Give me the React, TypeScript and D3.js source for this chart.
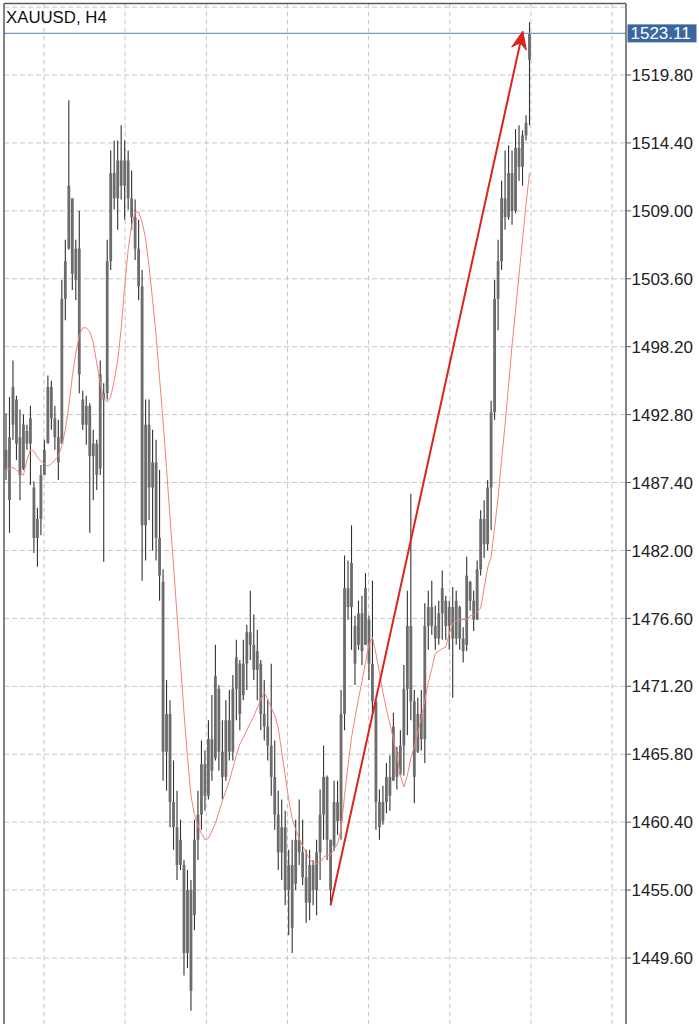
import React from 'react';
import * as d3 from 'd3';

const symbolTitle = 'XAUUSD, H4';
const priceTicks = [1449.6, 1455.0, 1460.4, 1465.8, 1471.2, 1476.6, 1482.0, 1487.4, 1492.8, 1498.2, 1503.6, 1509.0, 1514.4, 1519.8];
const extraGridLevels = [1444.2, 1525.2];
const currentPrice = 1523.11;

const highs = [
  1492.9, 1494.2, 1497.1, 1494.3, 1493.2, 1492.8, 1492.0, 1493.5, 1487.5, 1485.4,
  1488.8, 1490.8, 1495.9, 1495.5, 1493.5, 1492.4, 1503.5, 1506.7, 1517.8, 1508.7,
  1506.7, 1509.0, 1494.7, 1494.3, 1493.7, 1491.6, 1490.8, 1497.1, 1495.3, 1506.7,
  1513.8, 1514.6, 1514.6, 1515.8, 1514.6, 1513.8, 1512.2, 1509.9, 1508.3, 1504.3,
  1494.0, 1494.0, 1491.6, 1490.8, 1488.4, 1480.5, 1471.7, 1470.1, 1465.3, 1462.9,
  1460.6, 1457.4, 1456.6, 1455.8, 1460.6, 1462.9, 1466.9, 1466.1, 1468.5, 1470.5,
  1474.5, 1471.3, 1468.5, 1470.1, 1470.9, 1472.1, 1474.9, 1473.3, 1474.9, 1476.1,
  1478.8, 1476.9, 1475.7, 1473.3, 1471.7, 1470.1, 1473.0, 1466.9, 1462.9, 1462.2,
  1461.3, 1458.2, 1459.0, 1460.6, 1462.2, 1460.6, 1458.2, 1458.2, 1457.4, 1459.0,
  1463.0, 1466.5, 1464.1, 1459.0, 1463.7, 1463.7, 1470.9, 1481.6, 1481.2, 1484.0,
  1476.8, 1478.0, 1478.4, 1480.2, 1476.8, 1479.6, 1470.1, 1463.0, 1463.3, 1465.1,
  1465.7, 1469.1, 1466.4, 1467.7, 1472.9, 1478.8, 1486.5, 1470.9, 1470.3, 1470.9,
  1477.8, 1478.8, 1479.6, 1477.6, 1478.0, 1480.4, 1478.4, 1478.0, 1479.1, 1478.8,
  1477.6, 1475.9, 1481.5, 1479.6, 1478.8, 1481.2, 1485.2, 1486.0, 1487.6, 1493.9,
  1503.5, 1506.7, 1511.4, 1513.8, 1514.2, 1513.8, 1515.5, 1515.8, 1515.4, 1516.6,
  1524.0,
];
const lows = [
  1487.6, 1483.4, 1490.8, 1489.2, 1486.0, 1488.4, 1490.0, 1487.2, 1481.8, 1480.7,
  1483.2, 1488.4, 1490.8, 1491.6, 1490.0, 1487.6, 1490.5, 1500.3, 1505.9, 1502.7,
  1501.9, 1494.5, 1491.6, 1490.4, 1483.4, 1486.0, 1486.8, 1488.0, 1481.1, 1494.0,
  1504.3, 1509.1, 1507.5, 1509.9, 1508.3, 1509.1, 1507.5, 1505.1, 1501.9, 1479.6,
  1481.2, 1484.4, 1482.0, 1481.2, 1478.0, 1463.7, 1462.9, 1460.0, 1458.2, 1455.8,
  1456.6, 1448.2, 1448.8, 1445.4, 1451.8, 1457.4, 1459.8, 1461.3, 1462.2, 1463.7,
  1465.3, 1464.5, 1462.2, 1463.7, 1465.3, 1465.3, 1468.5, 1467.7, 1470.1, 1470.9,
  1473.3, 1471.7, 1470.1, 1467.7, 1466.9, 1465.3, 1462.5, 1459.8, 1456.6, 1455.8,
  1453.8, 1451.4, 1450.0, 1455.0, 1457.0, 1455.4, 1452.4, 1452.6, 1453.8, 1453.0,
  1455.8, 1459.0, 1457.4, 1453.8, 1458.1, 1459.4, 1459.0, 1467.7, 1476.5, 1474.1,
  1471.3, 1474.1, 1472.9, 1474.5, 1471.7, 1469.1, 1459.8, 1459.0, 1460.2, 1461.1,
  1461.3, 1463.7, 1463.0, 1464.1, 1464.1, 1467.3, 1468.5, 1461.9, 1465.9, 1466.1,
  1465.1, 1474.1, 1475.3, 1474.1, 1474.5, 1474.9, 1474.9, 1474.1, 1470.3, 1474.5,
  1474.1, 1473.1, 1474.0, 1477.2, 1475.6, 1476.5, 1480.0, 1481.4, 1482.0, 1483.6,
  1492.4, 1499.5, 1504.3, 1507.5, 1508.3, 1507.9, 1508.8, 1511.4, 1511.0, 1514.6,
  1515.8,
];
const opens = [
  1490.0, 1486.0, 1492.0, 1494.0, 1491.0, 1488.5, 1491.5, 1490.5, 1487.0, 1483.0,
  1484.5, 1488.0, 1490.5, 1495.0, 1492.5, 1491.0, 1490.5, 1502.0, 1506.0, 1510.0,
  1503.5, 1506.0, 1494.0, 1492.0, 1493.5, 1489.5, 1490.5, 1488.5, 1494.5, 1494.5,
  1505.0, 1512.0, 1510.0, 1513.0, 1511.0, 1513.0, 1510.0, 1508.5, 1506.0, 1503.0,
  1484.0, 1492.0, 1487.0, 1489.0, 1483.0, 1479.5, 1466.0, 1469.0, 1462.0, 1460.0,
  1457.0, 1457.0, 1450.0, 1455.0, 1453.0, 1459.0, 1461.0, 1465.0, 1462.5, 1467.0,
  1465.5, 1471.0, 1466.0, 1464.0, 1468.5, 1466.0, 1471.0, 1473.0, 1470.5, 1473.0,
  1475.5, 1474.5, 1472.5, 1473.0, 1469.0, 1468.0, 1466.5, 1464.0, 1461.0, 1458.0,
  1460.0, 1455.0, 1457.0, 1455.5, 1459.0, 1458.0, 1456.0, 1454.0, 1457.0, 1455.0,
  1458.0, 1461.0, 1464.0, 1459.0, 1458.5, 1462.0, 1460.5, 1469.0, 1479.0, 1477.5,
  1476.0, 1474.5, 1477.0, 1474.5, 1476.5, 1473.0, 1470.0, 1462.0, 1460.5, 1462.0,
  1464.0, 1463.7, 1466.0, 1464.2, 1466.5, 1471.0, 1476.0, 1470.0, 1466.0, 1469.0,
  1467.0, 1476.0, 1477.5, 1476.0, 1475.0, 1477.0, 1478.0, 1476.0, 1477.5, 1475.0,
  1477.5, 1475.0, 1474.5, 1479.5, 1478.0, 1476.5, 1480.5, 1484.5, 1482.5, 1487.0,
  1493.0, 1502.0, 1505.0, 1510.0, 1508.5, 1512.0, 1509.0, 1514.0, 1512.5, 1515.0,
  1521.0,
];
const closes = [
  1488.5, 1491.0, 1495.0, 1490.5, 1488.0, 1492.0, 1490.5, 1492.5, 1483.0, 1484.5,
  1488.0, 1490.0, 1495.0, 1492.5, 1491.0, 1489.0, 1502.0, 1505.0, 1511.0, 1504.0,
  1506.0, 1496.0, 1492.0, 1493.5, 1489.5, 1490.5, 1488.0, 1496.0, 1494.0, 1505.0,
  1512.0, 1510.0, 1513.0, 1511.0, 1513.0, 1510.0, 1508.5, 1506.0, 1503.0, 1484.0,
  1492.0, 1487.0, 1489.0, 1483.0, 1480.0, 1466.0, 1469.0, 1462.0, 1460.0, 1457.0,
  1459.0, 1450.0, 1455.0, 1447.0, 1459.0, 1461.0, 1465.0, 1462.5, 1467.0, 1464.5,
  1472.0, 1466.0, 1464.0, 1468.5, 1466.0, 1471.0, 1473.5, 1469.0, 1473.0, 1475.5,
  1474.5, 1472.5, 1474.0, 1469.0, 1468.0, 1466.5, 1464.0, 1461.0, 1458.0, 1460.0,
  1455.0, 1457.0, 1452.0, 1459.0, 1458.0, 1456.0, 1454.0, 1457.0, 1455.0, 1458.0,
  1461.0, 1464.0, 1459.0, 1455.0, 1462.0, 1460.5, 1469.0, 1479.0, 1477.5, 1481.0,
  1473.0, 1477.0, 1474.0, 1479.0, 1473.0, 1470.0, 1462.0, 1460.0, 1462.0, 1464.0,
  1462.5, 1468.0, 1464.0, 1466.5, 1471.0, 1476.0, 1470.0, 1464.0, 1469.0, 1467.0,
  1476.0, 1477.5, 1476.0, 1475.0, 1477.0, 1479.0, 1476.0, 1477.5, 1475.0, 1478.0,
  1475.0, 1474.0, 1480.0, 1478.0, 1476.5, 1480.5, 1484.5, 1482.5, 1487.0, 1493.0,
  1502.0, 1505.0, 1510.0, 1508.5, 1512.0, 1509.0, 1514.0, 1512.5, 1515.0, 1516.0,
  1523.11,
];
const maValues = [
  1488.3, 1488.5, 1488.6, 1488.4, 1488.1, 1488.0, 1489.2, 1490.0, 1489.9, 1489.4,
  1489.1, 1488.9, 1488.7, 1488.9, 1489.2, 1489.5, 1490.3, 1491.6, 1493.5, 1495.8,
  1497.7, 1499.1, 1499.7, 1499.7, 1499.4, 1498.5, 1496.9, 1495.3, 1494.1, 1493.8,
  1494.2, 1495.5, 1497.1, 1499.6, 1503.0, 1505.9, 1507.9, 1508.9, 1508.9, 1508.1,
  1506.8, 1504.6, 1501.9, 1499.1, 1495.7, 1492.3, 1488.5, 1484.6, 1480.8, 1476.9,
  1473.0, 1469.1, 1465.6, 1462.5, 1461.0, 1460.1, 1459.5, 1459.0, 1459.1, 1459.7,
  1460.3, 1461.2, 1462.1, 1462.9, 1463.7, 1464.7, 1465.7, 1466.6, 1467.1, 1467.7,
  1468.3, 1468.8, 1469.5, 1470.1, 1470.7, 1470.2, 1469.5, 1468.9, 1467.9, 1466.0,
  1464.1, 1462.2, 1460.7, 1459.8, 1459.1, 1458.5, 1458.0, 1457.4, 1457.2, 1457.1,
  1457.2, 1457.6, 1457.8, 1457.8, 1458.2, 1458.7, 1459.8, 1462.5, 1464.9, 1467.1,
  1468.7, 1470.2, 1471.6, 1473.1, 1474.5, 1475.1, 1473.8, 1472.3, 1470.7, 1469.4,
  1468.2, 1467.0, 1465.7, 1464.1, 1463.2, 1464.1, 1465.5, 1466.4, 1467.5, 1468.7,
  1470.1, 1471.5, 1472.6, 1473.8, 1474.0, 1474.2, 1474.3, 1475.4, 1476.2, 1476.4,
  1476.5, 1476.5, 1476.5, 1476.8, 1476.9, 1477.1, 1477.4, 1479.0, 1480.6, 1481.5,
  1483.8, 1486.2, 1489.2, 1492.0, 1495.1, 1498.3, 1501.1, 1503.9, 1506.7, 1509.5,
  1512.0,
];

const arrowFrom = { index: 93, price: 1453.8 };
const arrowTo = { index: 148.1, price: 1523.3 };

const W = 699;
const H = 1024;
const plotLeft = 4;
const plotRight = 626;
const plotTop = 3.5;
const font = '"Liberation Sans", Arial, Helvetica, sans-serif';

export default function App() {
  const x = d3.scaleLinear().domain([0, highs.length - 1]).range([6, 529.5]);
  const y = d3.scaleLinear().domain([1449.6, 1519.8]).range([958, 75]);

  const gridLevels = [...extraGridLevels, ...priceTicks];
  const vGridX = d3.range(8).map((k) => 44 + k * 81.15);

  const maLine = d3
    .line<number>()
    .x((_, i) => x(i))
    .y((d) => y(d))(maValues) as string;

  const x0 = x(arrowFrom.index);
  const y0 = y(arrowFrom.price);
  const x1 = x(arrowTo.index);
  const y1 = y(arrowTo.price);
  const dx = x1 - x0;
  const dy = y1 - y0;
  const len = Math.hypot(dx, dy);
  const ux = dx / len;
  const uy = dy / len;
  const nx = -uy;
  const ny = ux;
  const headLen = 18;
  const headHalf = 7.5;
  const notch = 12;
  const bx = x1 - ux * headLen;
  const by = y1 - uy * headLen;
  const head = `M${x1},${y1} L${bx + nx * headHalf},${by + ny * headHalf} L${x1 - ux * notch},${y1 - uy * notch} L${bx - nx * headHalf},${by - ny * headHalf} Z`;

  return (
    <svg
      width={W}
      height={H}
      style={{ position: 'absolute', left: 0, top: 0, background: '#fff' }}
      xmlns="http://www.w3.org/2000/svg"
    >
      <rect x={0} y={0} width={W} height={H} fill="#fff" />
      <g>
        {gridLevels.map((p) => {
          const yy = y(p);
          if (yy < plotTop || yy > H) return null;
          return (
            <line key={'h' + p} x1={plotLeft} x2={plotRight} y1={yy} y2={yy} stroke="#c6c6c6" strokeWidth={1} strokeDasharray="5,3" />
          );
        })}
        {vGridX.map((gx) => (
          <line key={'v' + gx} x1={gx} x2={gx} y1={plotTop} y2={H} stroke="#c6c6c6" strokeWidth={1} strokeDasharray="5,3" />
        ))}
      </g>
      <g>
        {highs.map((hi, i) => {
          const cx = x(i);
          const o = opens[i];
          const c = closes[i];
          const top = y(Math.max(o, c));
          const bot = y(Math.min(o, c));
          return (
            <g key={'b' + i}>
              <line x1={cx} x2={cx} y1={y(hi)} y2={y(lows[i])} stroke="#333" strokeWidth={1.1} />
              <rect x={cx - 1.4} y={top} width={2.8} height={Math.max(1, bot - top)} fill="#6c6c6c" />
            </g>
          );
        })}
      </g>
      <path d={maLine} fill="none" stroke="#f0847c" strokeWidth={1} />
      <line x1={plotLeft} x2={plotRight} y1={y(currentPrice)} y2={y(currentPrice)} stroke="#7896c6" strokeWidth={1.2} />
      <line x1={x0} y1={y0} x2={x1 - ux * notch} y2={y1 - uy * notch} stroke="#d9261c" strokeWidth={2} />
      <path d={head} fill="#d9261c" stroke="#d9261c" strokeWidth={1} strokeLinejoin="miter" />
      <g stroke="#5a5a5a" strokeWidth={1.5} fill="none">
        <line x1={plotLeft} x2={plotLeft} y1={plotTop} y2={H} />
        <line x1={plotLeft} x2={plotRight} y1={plotTop} y2={plotTop} />
        <line x1={plotRight} x2={plotRight} y1={plotTop} y2={H} />
      </g>
      <g fontFamily={font} fontSize={17} fill="#222">
        {priceTicks.map((p) => (
          <g key={'t' + p}>
            <line x1={plotRight} x2={plotRight + 5} y1={y(p)} y2={y(p)} stroke="#5a5a5a" strokeWidth={1} />
            <text x={plotRight + 5.5} y={y(p)} dy="0.36em">
              {p.toFixed(2)}
            </text>
          </g>
        ))}
      </g>
      <rect x={627.5} y={y(currentPrice) - 9} width={69} height={18} fill="#3b67a0" />
      <text x={630.5} y={y(currentPrice)} dy="0.36em" fontFamily={font} fontSize={17} fill="#fff">
        {currentPrice.toFixed(2)}
      </text>
      <text x={6} y={22.5} fontFamily={font} fontSize={16.8} fill="#111">
        {symbolTitle}
      </text>
    </svg>
  );
}
